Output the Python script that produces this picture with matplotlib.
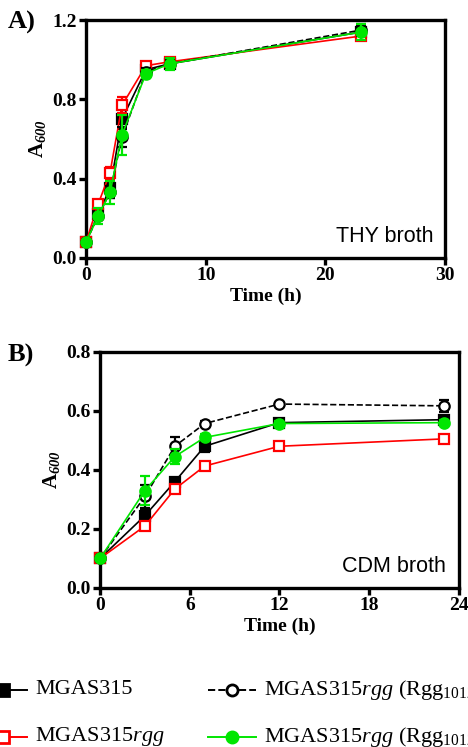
import matplotlib
matplotlib.use("Agg")
import matplotlib.pyplot as plt
from matplotlib.lines import Line2D

plt.rcParams.update({
    "font.family": "Liberation Serif",
    "mathtext.fontset": "custom",
    "mathtext.rm": "Liberation Serif",
    "mathtext.it": "Liberation Serif:italic",
    "mathtext.bf": "Liberation Serif:bold",
    "mathtext.bfit": "Liberation Serif:italic:bold",
})

BLACK = "#000000"; RED = "#ff0000"; GREEN = "#00e600"

# ---- data: panel A (THY broth) ----
thy_t = [0, 1, 2, 3, 5, 7, 23]
thy_wt = [0.08, 0.22, 0.35, 0.70, 0.95, 0.98, 1.14]
thy_wt_err = [0.01, 0.02, 0.05, 0.05, 0.02, 0.02, 0.03]
thy_rgg = [0.08, 0.27, 0.43, 0.77, 0.97, 0.99, 1.12]
thy_rgg_err = [0.01, 0.02, 0.03, 0.04, 0.02, 0.02, 0.02]
thy_comp = [0.08, 0.21, 0.33, 0.61, 0.94, 0.98, 1.15]
thy_comp_err = [0.01, 0.02, 0.03, 0.05, 0.02, 0.02, 0.03]
thy_comp2 = [0.08, 0.21, 0.33, 0.62, 0.93, 0.98, 1.14]
thy_comp2_err = [0.01, 0.04, 0.06, 0.10, 0.02, 0.03, 0.04]

# ---- data: panel B (CDM broth) ----
cdm_t = [0, 3, 5, 7, 12, 23]
cdm_wt = [0.10, 0.245, 0.36, 0.48, 0.56, 0.57]
cdm_wt_err = [0.005, 0.02, 0.01, 0.02, 0.01, 0.01]
cdm_rgg = [0.10, 0.21, 0.335, 0.413, 0.48, 0.505]
cdm_rgg_err = [0.005, 0.01, 0.01, 0.01, 0.01, 0.01]
cdm_comp = [0.10, 0.31, 0.48, 0.557, 0.623, 0.617]
cdm_comp_err = [0.005, 0.04, 0.03, 0.01, 0.005, 0.02]
cdm_comp2 = [0.10, 0.33, 0.445, 0.51, 0.557, 0.56]
cdm_comp2_err = [0.005, 0.05, 0.025, 0.01, 0.01, 0.01]

labels = ["MGAS315", r"MGAS315$\mathit{rgg}$",
          r"MGAS315$\mathit{rgg}$ (Rgg$_{1012}$)", r"MGAS315$\mathit{rgg}$ (Rgg$_{1012}$)"]

STY = [
    dict(color=BLACK, marker="s", mfc=BLACK, mec=BLACK, ls="-"),
    dict(color=RED, marker="s", mfc="white", mec=RED, ls="-"),
    dict(color=BLACK, marker="o", mfc="white", mec=BLACK, ls="--"),
    dict(color=GREEN, marker="o", mfc=GREEN, mec=GREEN, ls="-"),
]


def style_axes(ax):
    for s in ax.spines.values():
        s.set_linewidth(2.4)
    ax.tick_params(direction="out", length=5, width=2.4, labelsize=14, pad=1.5)
    for lab in ax.get_xticklabels() + ax.get_yticklabels():
        lab.set_fontweight("bold")
    ax.set_xlabel("Time (h)", fontsize=14, fontweight="bold", labelpad=3)
    ax.set_ylabel(r"$\mathbf{A}_{\mathbfit{600}}$", fontsize=15, labelpad=3)


def series(ax, t, ys, errs):
    order = [1, 0, 2, 3]
    for i in order:
        st = STY[i]
        ax.errorbar(t, ys[i], yerr=errs[i], color=st["color"], ls=st["ls"], lw=1.2,
                    marker=st["marker"], ms=7.5, mfc=st["mfc"], mec=st["mec"], mew=1.6,
                    capsize=3.5, elinewidth=1.6, capthick=1.6, clip_on=False, zorder=3 + i)


fig = plt.figure(figsize=(4.68, 7.47), dpi=100)

# panel A
axA = fig.add_axes([0.184, 0.655, 0.767, 0.318])
series(axA, thy_t, [thy_wt, thy_rgg, thy_comp, thy_comp2],
       [thy_wt_err, thy_rgg_err, thy_comp_err, thy_comp2_err])
axA.set_xlim(0, 30); axA.set_ylim(0, 1.2)
axA.set_xticks([0, 10, 20, 30]); axA.set_yticks([0.0, 0.4, 0.8, 1.2])
axA.set_yticklabels(["0.0", "0.4", "0.8", "1.2"])
style_axes(axA)
axA.text(0.967, 0.067, "THY broth", transform=axA.transAxes, ha="right", va="baseline",
         fontsize=15.5, family="Liberation Sans")

# panel B
axB = fig.add_axes([0.214, 0.213, 0.766, 0.316])
series(axB, cdm_t, [cdm_wt, cdm_rgg, cdm_comp, cdm_comp2],
       [cdm_wt_err, cdm_rgg_err, cdm_comp_err, cdm_comp2_err])
axB.set_xlim(0, 24); axB.set_ylim(0, 0.8)
axB.set_xticks([0, 6, 12, 18, 24]); axB.set_yticks([0.0, 0.2, 0.4, 0.6, 0.8])
axB.set_yticklabels(["0.0", "0.2", "0.4", "0.6", "0.8"])
style_axes(axB)
axB.text(0.963, 0.069, "CDM broth", transform=axB.transAxes, ha="right", va="baseline",
         fontsize=15.5, family="Liberation Sans")

fig.text(8 / 468, 1 - 22 / 747, "A)", fontsize=19, fontweight="bold", va="center")
fig.text(8 / 468, 1 - 355 / 747, "B)", fontsize=19, fontweight="bold", va="center")

# legend drawn by hand at the bottom, in pixel coordinates
lg = fig.add_axes([0, 0, 1, 1], zorder=-1)
lg.set_xlim(0, 468); lg.set_ylim(747, 0); lg.axis("off")
slots = [(0, 690), (0, 737), (1, 690), (1, 737)]
for i, (col, y) in enumerate(slots):
    st = STY[i]
    cx = 3 if col == 0 else 232
    half = 24
    lg.add_line(Line2D([cx - half, cx + half], [y, y], color=st["color"], ls=st["ls"], lw=1.4))
    lg.add_line(Line2D([cx], [y], marker=st["marker"], ms=8, mfc=st["mfc"], mec=st["mec"],
                       mew=2, color=st["color"]))
    lg.text(cx + half + 8, y, labels[i], fontsize=16, va="center", ha="left")

fig.savefig("out.png", dpi=100)
